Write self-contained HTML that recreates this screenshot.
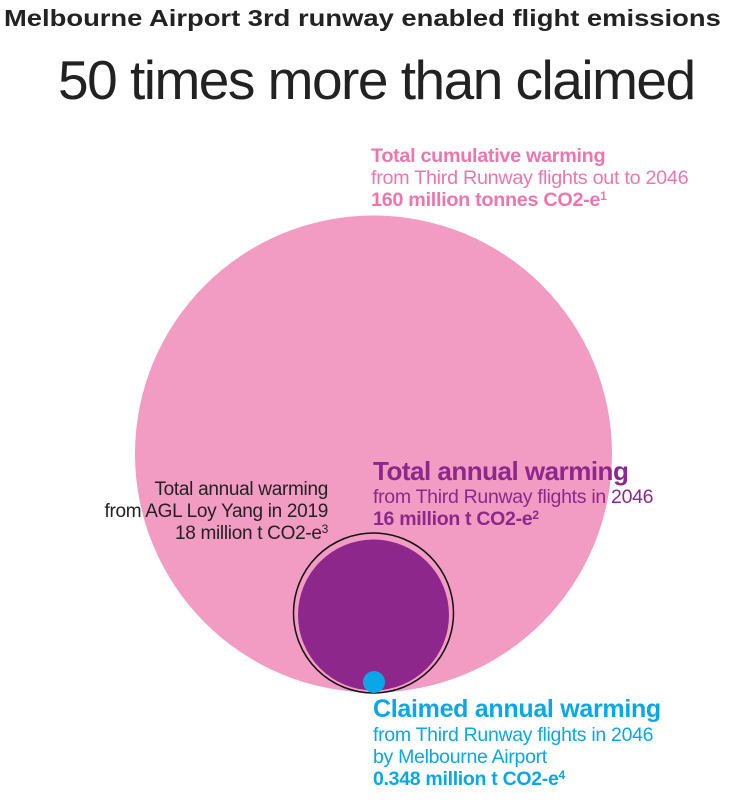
<!DOCTYPE html>
<html><head><style>
body{margin:0;background:#fff;width:750px;height:804px;overflow:hidden;position:relative;font-family:"Liberation Sans",sans-serif}
.t{position:absolute;white-space:nowrap}
sup{font-size:12px;line-height:0;vertical-align:6px}
</style></head><body>
<div class="t" style="left:4px;top:5px;font-size:23px;font-weight:bold;color:#222;transform-origin:0 0;transform:scaleX(1.19)">Melbourne Airport 3rd runway enabled flight emissions</div>
<div class="t" style="left:58px;top:48px;font-size:55px;color:#222;letter-spacing:-1.5px">50 times more than claimed</div>
<svg width="750" height="804" style="position:absolute;left:0;top:0">
<circle cx="373.5" cy="454" r="238.5" fill="#f29bc3"/>
<circle cx="373.5" cy="613" r="80" fill="none" stroke="#111" stroke-width="1.5"/>
<circle cx="373.5" cy="615" r="75.5" fill="#8e278b"/>
<circle cx="374" cy="682" r="11" fill="#0aa7e8"/>
</svg>
<div class="t" style="left:371px;top:145px;font-size:19.8px;line-height:22px;color:#ef76ad;letter-spacing:-0.3px"><b>Total cumulative warming</b><br>from Third Runway flights out to 2046<br><b>160 million tonnes CO2-e<sup>1</sup></b></div>
<div class="t" style="left:373px;top:456px;font-size:19.5px;line-height:22px;color:#8e278b;letter-spacing:-0.3px"><b style="font-size:26px;line-height:30px;letter-spacing:-0.5px">Total annual warming</b><br>from Third Runway flights in 2046<br><b>16 million t CO2-e<sup>2</sup></b></div>
<div class="t" style="right:422px;top:479px;font-size:19px;line-height:22px;color:#222;text-align:right;letter-spacing:-0.3px">Total annual warming<br>from AGL Loy Yang in 2019<br>18 million t CO2-e<sup>3</sup></div>
<div class="t" style="left:373px;top:694px;font-size:19.5px;line-height:22px;color:#0aa7e8;letter-spacing:-0.3px"><b style="font-size:25px;line-height:30px">Claimed annual warming</b><br>from Third Runway flights in 2046<br>by Melbourne Airport<br><b>0.348 million t CO2-e<sup>4</sup></b></div>
</body></html>
